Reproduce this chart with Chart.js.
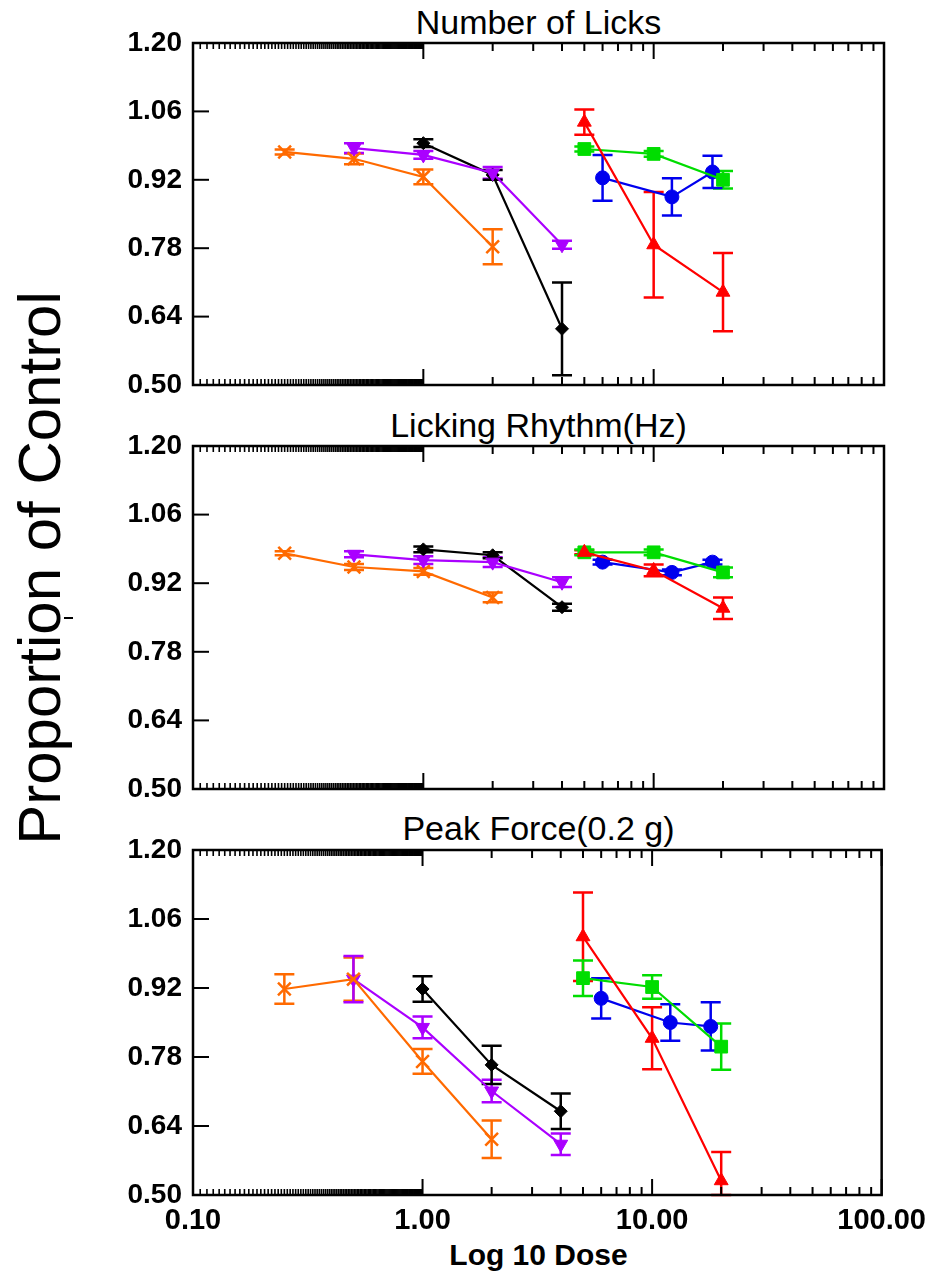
<!DOCTYPE html>
<html>
<head>
<meta charset="utf-8">
<script src="https://cdn.jsdelivr.net/npm/chart.js@4.4.0/dist/chart.umd.min.js"></script>
<style>
    body { margin: 0; background: #fff; width: 935px; height: 1276px; position: relative; overflow: hidden; font-family: "Liberation Sans", Arial, sans-serif; }
    canvas { position: absolute; left: 0; }
    .title { position: absolute; left: 193px; width: 691px; text-align: center; font-size: 34px; line-height: 34px; color: #000; white-space: nowrap; }
    .xlabel { position: absolute; left: 193px; width: 691px; top: 1240px; text-align: center; font-size: 30px; line-height: 30px; font-weight: bold; }
    .ylabel { position: absolute; width: 600px; height: 62px; line-height: 62px; left: -259.8px; top: 536.5px; text-align: center; font-size: 60px; transform: rotate(-90deg); white-space: nowrap; }
    .dash { position: absolute; left: 64px; top: 617px; width: 9px; height: 2px; background: #000; }
</style>
</head>
<body>
<div class="title" style="top:5px">Number of Licks</div>
<div class="title" style="top:408px">Licking Rhythm(Hz)</div>
<div class="title" style="top:811px">Peak Force(0.2 g)</div>
<div class="ylabel">Proportion of Control</div>
<div class="dash"></div>
<div class="xlabel">Log 10 Dose</div>
<canvas id="licks" width="935" height="425" style="top:0px"></canvas>
<canvas id="rhythm" width="935" height="429" style="top:400px"></canvas>
<canvas id="force" width="935" height="476" style="top:800px"></canvas>
<script>
// doses
const orangeDose = [0.25, 0.5, 1, 2];
const purpleDose = [0.5, 1, 2, 4];
const blackDose = [1, 2, 4];
const redDose = [5, 10, 20];
const greenDose = [5, 10, 20];
const blueDose = [6, 12, 18];

// Number of Licks
const licksOrange = [0.977, 0.963, 0.926, 0.783];
const licksOrangeErr = [0.005, 0.011, 0.015, 0.036];
const licksPurple = [0.985, 0.971, 0.934, 0.787];
const licksPurpleErr = [0.010, 0.008, 0.012, 0.008];
const licksBlack = [0.995, 0.930, 0.615];
const licksBlackErr = [0.008, 0.010, 0.095];
const licksRed = [1.038, 0.787, 0.690];
const licksRedErr = [0.026, 0.108, 0.080];
const licksGreen = [0.983, 0.973, 0.920];
const licksGreenErr = [0.005, 0.006, 0.018];
const licksBlue = [0.924, 0.885, 0.936];
const licksBlueErr = [0.047, 0.038, 0.033];

// Licking Rhythm(Hz)
const rhythmOrange = [0.981, 0.953, 0.944, 0.891];
const rhythmOrangeErr = [0.004, 0.006, 0.007, 0.010];
const rhythmPurple = [0.979, 0.967, 0.963, 0.922];
const rhythmPurpleErr = [0.006, 0.008, 0.010, 0.010];
const rhythmBlack = [0.989, 0.977, 0.871];
const rhythmBlackErr = [0.006, 0.006, 0.007];
const rhythmRed = [0.983, 0.946, 0.869];
const rhythmRedErr = [0.004, 0.012, 0.022];
const rhythmGreen = [0.983, 0.983, 0.942];
const rhythmGreenErr = [0.006, 0.006, 0.010];
const rhythmBlue = [0.963, 0.942, 0.963];
const rhythmBlueErr = [0.005, 0.006, 0.005];

// Peak Force(0.2 g)
const forceOrange = [0.918, 0.938, 0.771, 0.613];
const forceOrangeErr = [0.030, 0.044, 0.025, 0.038];
const forcePurple = [0.938, 0.840, 0.711, 0.603];
const forcePurpleErr = [0.047, 0.022, 0.023, 0.022];
const forceBlack = [0.918, 0.764, 0.670];
const forceBlackErr = [0.026, 0.039, 0.036];
const forceRed = [1.024, 0.818, 0.529];
const forceRedErr = [0.090, 0.063, 0.058];
const forceGreen = [0.940, 0.922, 0.801];
const forceGreenErr = [0.036, 0.024, 0.047];
const forceBlue = [0.899, 0.850, 0.842];
const forceBlueErr = [0.041, 0.037, 0.049];

// axis ticks
const yTicks = [0.50, 0.64, 0.78, 0.92, 1.06, 1.20];
const xMajor = [0.1, 1, 10, 100];
const xLabels = ['0.10', '1.00', '10.00', '100.00'];
const xMinor = [2, 3, 4, 5, 6, 7, 8, 9, 20, 30, 40, 50, 60, 70, 80, 90];

// the crowded tick band between 0.1 and 1
let xDense = [];
for (let v = 0.1075; v < 0.999; v += 0.0075) xDense.push(v);

// combine doses, means and errors into points
function pts(doses, vals, errs) {
    return doses.map((d, i) => ({ x: d, y: vals[i], e: errs[i] }));
}

function series(color, style, rotation, radius, data) {
    return {
        data: data,
        showLine: true,
        borderColor: color,
        backgroundColor: color,
        borderWidth: 2.2,
        pointStyle: style,
        pointRotation: rotation,
        pointRadius: radius,
        pointBorderWidth: style === 'crossRot' ? 2.5 : 1,
        pointBorderColor: color,
        pointBackgroundColor: color
    };
}

// error bars under the markers
const errorBars = {
    id: 'errorBars',
    beforeDatasetsDraw(chart) {
        const ctx = chart.ctx;
        const x = chart.scales.x, y = chart.scales.y;
        ctx.save();
        ctx.lineWidth = 2.5;
        chart.data.datasets.forEach(ds => {
            ctx.strokeStyle = ds.borderColor;
            ds.data.forEach(p => {
                const px = x.getPixelForValue(p.x);
                const top = y.getPixelForValue(p.y + p.e);
                const bot = y.getPixelForValue(Math.max(p.y - p.e, y.min));
                ctx.beginPath();
                ctx.moveTo(px, top); ctx.lineTo(px, bot);
                ctx.moveTo(px - 10, top); ctx.lineTo(px + 10, top);
                ctx.moveTo(px - 10, bot); ctx.lineTo(px + 10, bot);
                ctx.stroke();
            });
        });
        ctx.restore();
    }
};

// box frame with inward ticks
const frameTicks = {
    id: 'frameTicks',
    afterDraw(chart) {
        const ctx = chart.ctx;
        const a = chart.chartArea;
        const x = chart.scales.x, y = chart.scales.y;
        ctx.save();
        ctx.strokeStyle = '#000';
        const tick = (v, len) => {
            const px = x.getPixelForValue(v);
            ctx.beginPath();
            ctx.moveTo(px, a.top); ctx.lineTo(px, a.top + len);
            ctx.moveTo(px, a.bottom); ctx.lineTo(px, a.bottom - len);
            ctx.stroke();
        };
        ctx.lineWidth = 1.6;
        xDense.forEach(v => tick(v, 6));
        ctx.lineWidth = 2;
        xMinor.forEach(v => tick(v, 8));
        xMajor.forEach(v => tick(v, 16));
        yTicks.forEach(v => {
            const py = y.getPixelForValue(v);
            ctx.beginPath();
            ctx.moveTo(a.left, py); ctx.lineTo(a.left + 16, py);
            ctx.stroke();
        });
        ctx.lineWidth = 2.5;
        ctx.strokeRect(a.left, a.top, a.right - a.left, a.bottom - a.top);
        ctx.restore();
    }
};

// 创建一个面板
function makePanel(id, datasets, padTop, xHeight, showX) {
    new Chart(document.getElementById(id), {
        type: 'scatter',
        data: { datasets: datasets },
        options: {
            responsive: false,
            animation: false,
            devicePixelRatio: 1,
            layout: { padding: { top: padTop, right: 51, bottom: 0, left: 0 } },
            plugins: { legend: { display: false }, tooltip: { enabled: false } },
            scales: {
                x: {
                    type: 'logarithmic',
                    min: 0.1,
                    max: 100,
                    grid: { display: false, drawTicks: false },
                    border: { display: false },
                    afterBuildTicks: s => { s.ticks = xMajor.map(v => ({ value: v })); },
                    afterFit: s => { s.height = xHeight; },
                    ticks: {
                        display: showX,
                        autoSkip: false,
                        maxRotation: 0,
                        padding: 9,
                        color: '#000',
                        font: { family: 'Liberation Sans', size: 29, weight: 'bold' },
                        callback: (v, i) => xLabels[i]
                    }
                },
                y: {
                    min: 0.5,
                    max: 1.2,
                    grid: { display: false, drawTicks: false },
                    border: { display: false },
                    afterBuildTicks: s => { s.ticks = yTicks.map(v => ({ value: v })); },
                    afterFit: s => { s.width = 193; },
                    ticks: {
                        padding: 11,
                        color: '#000',
                        font: { family: 'Liberation Sans', size: 28, weight: 'bold' },
                        callback: v => v.toFixed(2)
                    }
                }
            }
        },
        plugins: [errorBars, frameTicks]
    });
}

const orange = '#FF6A00', purple = '#AA00FF', black = '#000000', red = '#FF0000', green = '#00DD00', blue = '#0000EE';

makePanel('licks', [
    series(orange, 'crossRot', 0, 9, pts(orangeDose, licksOrange, licksOrangeErr)),
    series(purple, 'triangle', 180, 8, pts(purpleDose, licksPurple, licksPurpleErr)),
    series(black, 'rectRot', 0, 6.5, pts(blackDose, licksBlack, licksBlackErr)),
    series(red, 'triangle', 0, 8, pts(redDose, licksRed, licksRedErr)),
    series(green, 'rect', 0, 9, pts(greenDose, licksGreen, licksGreenErr)),
    series(blue, 'circle', 0, 7, pts(blueDose, licksBlue, licksBlueErr))
], 43, 40, false);

makePanel('rhythm', [
    series(orange, 'crossRot', 0, 9, pts(orangeDose, rhythmOrange, rhythmOrangeErr)),
    series(purple, 'triangle', 180, 8, pts(purpleDose, rhythmPurple, rhythmPurpleErr)),
    series(black, 'rectRot', 0, 6.5, pts(blackDose, rhythmBlack, rhythmBlackErr)),
    series(red, 'triangle', 0, 8, pts(redDose, rhythmRed, rhythmRedErr)),
    series(green, 'rect', 0, 9, pts(greenDose, rhythmGreen, rhythmGreenErr)),
    series(blue, 'circle', 0, 7, pts(blueDose, rhythmBlue, rhythmBlueErr))
], 46, 40, false);

makePanel('force', [
    series(orange, 'crossRot', 0, 9, pts(orangeDose, forceOrange, forceOrangeErr)),
    series(purple, 'triangle', 180, 8, pts(purpleDose, forcePurple, forcePurpleErr)),
    series(black, 'rectRot', 0, 6.5, pts(blackDose, forceBlack, forceBlackErr)),
    series(red, 'triangle', 0, 8, pts(redDose, forceRed, forceRedErr)),
    series(green, 'rect', 0, 9, pts(greenDose, forceGreen, forceGreenErr)),
    series(blue, 'circle', 0, 7, pts(blueDose, forceBlue, forceBlueErr))
], 50, 81, true);
</script>
</body>
</html>
